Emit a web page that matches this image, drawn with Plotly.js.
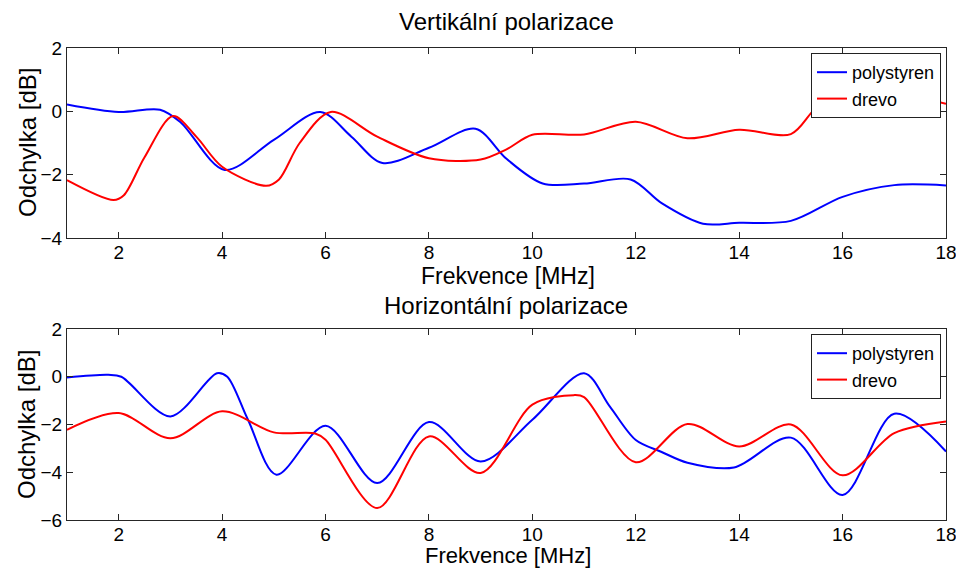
<!DOCTYPE html>
<html><head><meta charset="utf-8">
<script src="https://cdn.plot.ly/plotly-3.0.1.min.js"></script>
<style>html,body{margin:0;padding:0;background:#fff}#chart{width:956px;height:568px}</style>
</head><body><div id="chart"></div>
<script>
// Vertical polarization
const vPolyX = [1,2,2.8,3.2,4.05,5,5.9,6.5,7.1,8,8.9,9.5,10.2,11,11.9,12.5,13.3,14,15,16,17,18];
const vPolyY = [0.22,-0.02,0.05,-0.35,-1.85,-0.9,-0.02,-0.8,-1.63,-1.15,-0.55,-1.5,-2.28,-2.28,-2.15,-2.9,-3.55,-3.52,-3.46,-2.7,-2.33,-2.34];
const vWoodX = [1,1.9,2.1,2.5,3.05,3.5,4,4.85,5.1,5.5,6.1,7,8,9,9.5,10,11,12,13,14,15,15.5,16,17,17.5,18];
const vWoodY = [-2.17,-2.8,-2.65,-1.45,-0.15,-0.8,-1.75,-2.35,-2.15,-1.0,-0.02,-0.8,-1.48,-1.52,-1.2,-0.74,-0.73,-0.33,-0.85,-0.58,-0.72,0.12,0.45,0.55,0.42,0.24];
// Horizontal polarization
const hPolyX = [1,1.8,2.05,3,3.9,4.1,4.5,5.05,6,7,8,9,10,11,11.5,12,12.5,13,13.9,15,16,17,18];
const hPolyY = [-0.03,0.08,0.0,-1.66,0.15,0.0,-1.8,-4.1,-2.05,-4.45,-1.9,-3.55,-1.8,0.15,-1.25,-2.65,-3.15,-3.6,-3.8,-2.55,-4.95,-1.55,-3.13];
const hWoodX = [1,2,3,4,5,5.8,6,7,8,9,10,10.8,11,12,13,14,15,16,17,18];
const hWoodY = [-2.22,-1.52,-2.58,-1.45,-2.33,-2.38,-2.64,-5.5,-2.5,-4.03,-1.17,-0.77,-0.85,-3.58,-1.98,-2.92,-2.0,-4.13,-2.36,-1.87];

const seriesNames = ['polystyren','drevo'];
const titles = ['Vertikální polarizace','Horizontální polarizace'];
const xTitle = 'Frekvence [MHz]';
const yTitle = 'Odchylka [dB]';

const FONT = 'Liberation Sans, Arial, Helvetica, sans-serif';
const BLUE = '#0000ff', RED = '#ff0000';
const ln = c => ({color:c, width:2, shape:'spline', smoothing:0.9});

const data = [
  {x:vPolyX, y:vPolyY, name:seriesNames[0], mode:'lines', line:ln(BLUE), xaxis:'x', yaxis:'y', legend:'legend'},
  {x:vWoodX, y:vWoodY, name:seriesNames[1], mode:'lines', line:ln(RED), xaxis:'x', yaxis:'y', legend:'legend'},
  {x:hPolyX, y:hPolyY, name:seriesNames[0], mode:'lines', line:ln(BLUE), xaxis:'x2', yaxis:'y2', legend:'legend2'},
  {x:hWoodX, y:hWoodY, name:seriesNames[1], mode:'lines', line:ln(RED), xaxis:'x2', yaxis:'y2', legend:'legend2'}
];

const axBase = {showgrid:false, zeroline:false, showline:true, linecolor:'#262626', linewidth:1,
  mirror:'ticks', ticks:'inside', ticklen:6, tickcolor:'#262626', ticklabeloverflow:'allow',
  tickfont:{family:FONT, size:19, color:'#000'}};

const legBase = {bgcolor:'#fff', bordercolor:'#222', borderwidth:1, xanchor:'right', yanchor:'top',
  font:{family:FONT, size:18, color:'#000'}, tracegroupgap:0, itemwidth:30};

const ann = (text,x,y,angle,size)=>({text:text, x:x, y:y, xref:'paper', yref:'paper', showarrow:false,
  xanchor:'center', yanchor:'middle', textangle:angle||0, font:{family:FONT, size:size||24, color:'#000'}});

const H = 568;
const layout = {
  width:956, height:568, margin:{l:67, r:10, t:0, b:0},
  paper_bgcolor:'#fff', plot_bgcolor:'#fff', showlegend:true,
  xaxis:Object.assign({}, axBase, {domain:[0,1], range:[1,18], tickvals:[2,4,6,8,10,12,14,16,18], anchor:'y', ticklabelstandoff:-3}),
  yaxis:Object.assign({}, axBase, {domain:[(H-238)/H,(H-48)/H], range:[-4,2], tickvals:[-4,-2,0,2], anchor:'x'}),
  xaxis2:Object.assign({}, axBase, {domain:[0,1], range:[1,18], tickvals:[2,4,6,8,10,12,14,16,18], anchor:'y2', ticklabelstandoff:-3}),
  yaxis2:Object.assign({}, axBase, {domain:[(H-520)/H,(H-329)/H], range:[-6,2], tickvals:[-6,-4,-2,0,2], anchor:'x2'}),
  legend:Object.assign({}, legBase, {x:(941-67)/879, y:(H-53)/H}),
  legend2:Object.assign({}, legBase, {x:(941-67)/879, y:(H-334)/H}),
  annotations:[
    ann(titles[0], (506-67)/879, (H-21)/H),
    ann(titles[1], (506-67)/879, (H-305)/H),
    ann(xTitle, (508-67)/879, (H-276)/H, 0, 23),
    ann(xTitle, (508-67)/879, (H-555)/H, 0, 22),
    ann(yTitle, -40/879, (H-143)/H, -90),
    ann(yTitle, -40/879, (H-425)/H, -90)
  ]
};
Plotly.newPlot('chart', data, layout, {displayModeBar:false, staticPlot:true});
</script></body></html>
